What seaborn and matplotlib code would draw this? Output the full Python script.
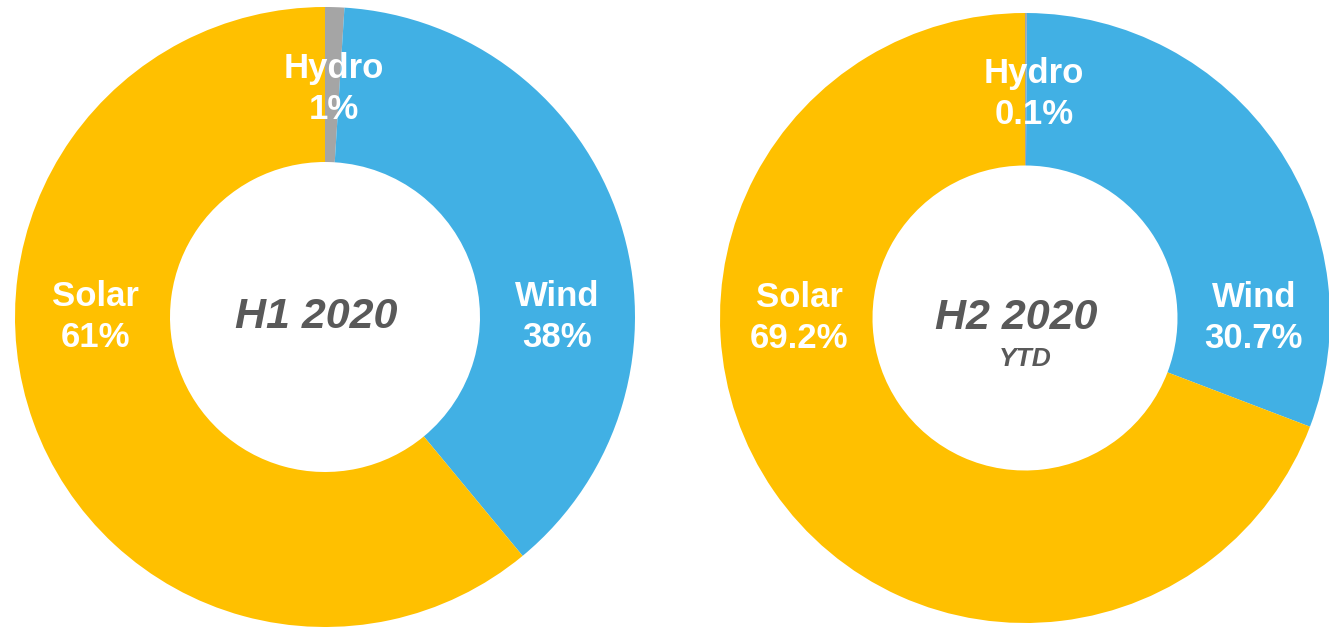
import matplotlib
matplotlib.use("Agg")
import matplotlib.pyplot as plt
import seaborn as sns

sns.set_style("white")
plt.rcParams["font.family"] = ["Liberation Sans", "DejaVu Sans"]

# shares of installed capacity, clockwise from the top
sources = ["Hydro", "Wind", "Solar"]
h1_share = [1, 38, 61]
h2_share = [0.1, 30.7, 69.2]
h1_labels = ["1%", "38%", "61%"]
h2_labels = ["0.1%", "30.7%", "69.2%"]
colors = ["#A5A5A5", "#41B0E4", "#FFC000"]

fig = plt.figure(figsize=(13.29, 6.27), dpi=100)

# label anchor points (data units, pie radius = 1)
label_pos = {"Hydro": (0.03, 0.735), "Wind": (0.75, 0.0), "Solar": (-0.74, 0.0)}


def donut(rect, shares, labels, title, sub=None):
    ax = fig.add_axes(rect)
    ax.pie(shares, colors=colors, startangle=90, counterclock=False,
           radius=1.0, wedgeprops=dict(width=0.5, edgecolor="none"))
    for name, lab in zip(sources, labels):
        x, y = label_pos[name]
        ax.text(x, y, f"{name}\n{lab}", ha="center", va="center",
                color="white", fontsize=25, fontweight="bold", linespacing=1.3)
    ax.text(-0.03, 0.0, title, ha="center", va="center", color="#595959",
            fontsize=31, fontweight="bold", fontstyle="italic")
    if sub:
        ax.text(0.0, -0.135, sub, ha="center", va="center", color="#595959",
                fontsize=19, fontweight="bold", fontstyle="italic")
    ax.set_xlim(-1, 1)
    ax.set_ylim(-1, 1)
    ax.set_aspect("equal")
    ax.axis("off")
    return ax


donut([15 / 1329, 0.0, 620 / 1329, 620 / 627], h1_share, h1_labels, "H1 2020")
donut([720 / 1329, 4 / 627, 610 / 1329, 610 / 627], h2_share, h2_labels,
      "H2 2020", "YTD")

fig.savefig("out.png", dpi=100, facecolor="white")
